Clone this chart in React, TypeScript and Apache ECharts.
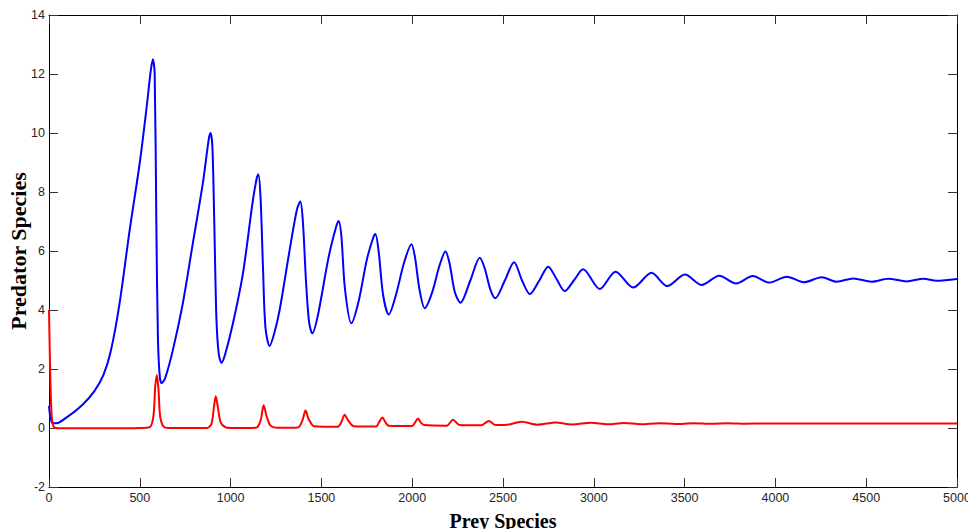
import React, { useEffect, useRef } from "react";
import * as echarts from "echarts";

// Predator (blue) series: time and value readings
const blueT = [0, 8, 20, 40, 95, 186, 250, 300, 340, 388, 444, 500, 540, 560, 572, 582, 591, 600, 610, 620, 640, 682, 737, 792, 847, 880, 890, 900, 910, 922, 935, 950, 970, 1013, 1068, 1123, 1145, 1153, 1165, 1178, 1192, 1215, 1240, 1270, 1325, 1365, 1384, 1398, 1415, 1432, 1450, 1480, 1540, 1580, 1595, 1610, 1630, 1665, 1705, 1750, 1785, 1797, 1815, 1840, 1871, 1910, 1955, 1996, 2015, 2040, 2069, 2110, 2150, 2183, 2205, 2235, 2266, 2320, 2372, 2400, 2430, 2458, 2510, 2561, 2605, 2648, 2700, 2749, 2795, 2840, 2890, 2941, 3033, 3120, 3217, 3318, 3404, 3502, 3594, 3691, 3783, 3875, 3967, 4063, 4157, 4255, 4337, 4429, 4530, 4622, 4723, 4815, 4888, 5000];
const blueV = [0.75, 0.35, 0.17, 0.16, 0.35, 0.8, 1.25, 1.8, 2.6, 4.2, 6.7, 9.0, 11.0, 12.1, 12.5, 12.0, 7.0, 3.0, 1.75, 1.52, 1.7, 2.64, 4.23, 6.26, 8.29, 9.8, 10.0, 9.5, 7.0, 3.7, 2.5, 2.21, 2.5, 3.55, 5.24, 7.73, 8.5, 8.6, 7.8, 5.5, 3.4, 2.78, 3.2, 4.0, 6.03, 7.4, 7.68, 7.0, 5.0, 3.6, 3.21, 3.8, 5.8, 6.8, 7.02, 6.5, 4.7, 3.55, 4.3, 5.7, 6.45, 6.58, 6.0, 4.5, 3.85, 4.5, 5.6, 6.23, 5.8, 4.7, 4.06, 4.6, 5.5, 5.98, 5.6, 4.6, 4.25, 5.0, 5.77, 5.4, 4.7, 4.4, 5.0, 5.62, 5.0, 4.54, 5.0, 5.47, 5.05, 4.64, 5.0, 5.38, 4.71, 5.3, 4.76, 5.26, 4.81, 5.2, 4.85, 5.16, 4.9, 5.15, 4.93, 5.13, 4.94, 5.11, 4.96, 5.07, 4.96, 5.06, 4.97, 5.06, 4.99, 5.05];

// Prey (red) series: time and value readings
const redT = [0, 3, 8, 15, 25, 40, 100, 300, 500, 555, 575, 585, 594, 603, 612, 630, 660, 870, 895, 908, 918, 930, 945, 970, 1000, 1140, 1165, 1182, 1198, 1220, 1260, 1370, 1395, 1413, 1430, 1460, 1590, 1610, 1628, 1648, 1680, 1800, 1818, 1836, 1852, 1870, 2000, 2015, 2032, 2048, 2065, 2190, 2225, 2260, 2380, 2422, 2460, 2510, 2602, 2690, 2790, 2880, 2985, 3075, 3165, 3260, 3360, 3450, 3550, 3650, 3740, 3840, 3930, 4200, 5000];
const redV = [4.0, 3.0, 1.5, 0.4, 0.05, 0.0, -0.01, -0.01, 0.0, 0.03, 0.4, 1.4, 1.8, 1.3, 0.4, 0.05, 0.0, 0.0, 0.15, 0.7, 1.08, 0.7, 0.2, 0.03, 0.0, 0.01, 0.25, 0.77, 0.4, 0.08, 0.01, 0.02, 0.25, 0.59, 0.3, 0.06, 0.04, 0.2, 0.45, 0.25, 0.06, 0.05, 0.2, 0.36, 0.2, 0.08, 0.07, 0.18, 0.32, 0.18, 0.1, 0.08, 0.28, 0.1, 0.09, 0.24, 0.1, 0.1, 0.21, 0.11, 0.19, 0.12, 0.18, 0.125, 0.17, 0.13, 0.165, 0.135, 0.16, 0.14, 0.16, 0.145, 0.155, 0.15, 0.15];

const xMin = 0, xMax = 5000, xStep = 500;
const yMin = -2, yMax = 14, yStep = 2;

const tickFont = "'Liberation Sans Narrow', 'Arial Narrow', 'Liberation Sans', Arial, sans-serif";
const titleFont = "'Liberation Serif', 'Times New Roman', serif";

export default function App() {
  const ref = useRef<HTMLDivElement>(null);
  useEffect(() => {
    if (!ref.current) return;
    const chart = echarts.init(ref.current, undefined, { renderer: "svg" });
    const blue = blueT.map((t, i) => [t, blueV[i]]);
    const red = redT.map((t, i) => [t, redV[i]]);
    const lineCol = "#000";
    const plain = (v: number) => String(v);
    const baseX = {
      type: "value" as const,
      min: xMin,
      max: xMax,
      interval: xStep,
      splitLine: { show: false },
      axisLine: { show: true, onZero: false, lineStyle: { color: lineCol, width: 1 } },
      axisTick: { show: true, inside: true, length: 9, lineStyle: { color: "#333" } },
    };
    const baseY = {
      type: "value" as const,
      min: yMin,
      max: yMax,
      interval: yStep,
      splitLine: { show: false },
      axisLine: { show: true, onZero: false, lineStyle: { color: lineCol, width: 1 } },
      axisTick: { show: true, inside: true, length: 9, lineStyle: { color: "#333" } },
    };
    chart.setOption({
      animation: false,
      backgroundColor: "#fff",
      grid: { left: 49, top: 15, width: 908, height: 472, containLabel: false, outerBoundsMode: "none" },
      xAxis: [
        {
          ...baseX,
          position: "bottom",
          name: "Prey Species",
          nameLocation: "middle",
          nameGap: 24,
          nameMoveOverlap: false,
          nameTextStyle: { fontFamily: titleFont, fontWeight: "bold", fontSize: 20, color: "#000" },
          axisLabel: { show: true, margin: 4, formatter: plain, fontFamily: tickFont, fontSize: 12.5, color: "#262626" },
        },
        { ...baseX, position: "top", axisLabel: { show: false } },
      ],
      yAxis: [
        {
          ...baseY,
          position: "left",
          name: "Predator Species",
          nameLocation: "middle",
          nameRotate: 90,
          nameGap: 20,
          nameMoveOverlap: false,
          nameTextStyle: { fontFamily: titleFont, fontWeight: "bold", fontSize: 22, color: "#000" },
          axisLabel: { show: true, margin: 4, formatter: plain, fontFamily: tickFont, fontSize: 12.5, color: "#262626" },
        },
        { ...baseY, position: "right", axisLabel: { show: false } },
      ],
      series: [
        {
          type: "line",
          data: blue,
          xAxisIndex: 0,
          yAxisIndex: 0,
          showSymbol: false,
          smooth: 0.3,
          lineStyle: { color: "#0000ff", width: 2 },
          itemStyle: { color: "#0000ff" },
        },
        {
          type: "line",
          data: red,
          xAxisIndex: 0,
          yAxisIndex: 0,
          showSymbol: false,
          smooth: 0.3,
          lineStyle: { color: "#ff0000", width: 2 },
          itemStyle: { color: "#ff0000" },
        },
      ],
    });
    return () => chart.dispose();
  }, []);
  return (
    <div
      ref={ref}
      style={{ position: "absolute", left: 0, top: 0, width: 968, height: 529 }}
    />
  );
}
